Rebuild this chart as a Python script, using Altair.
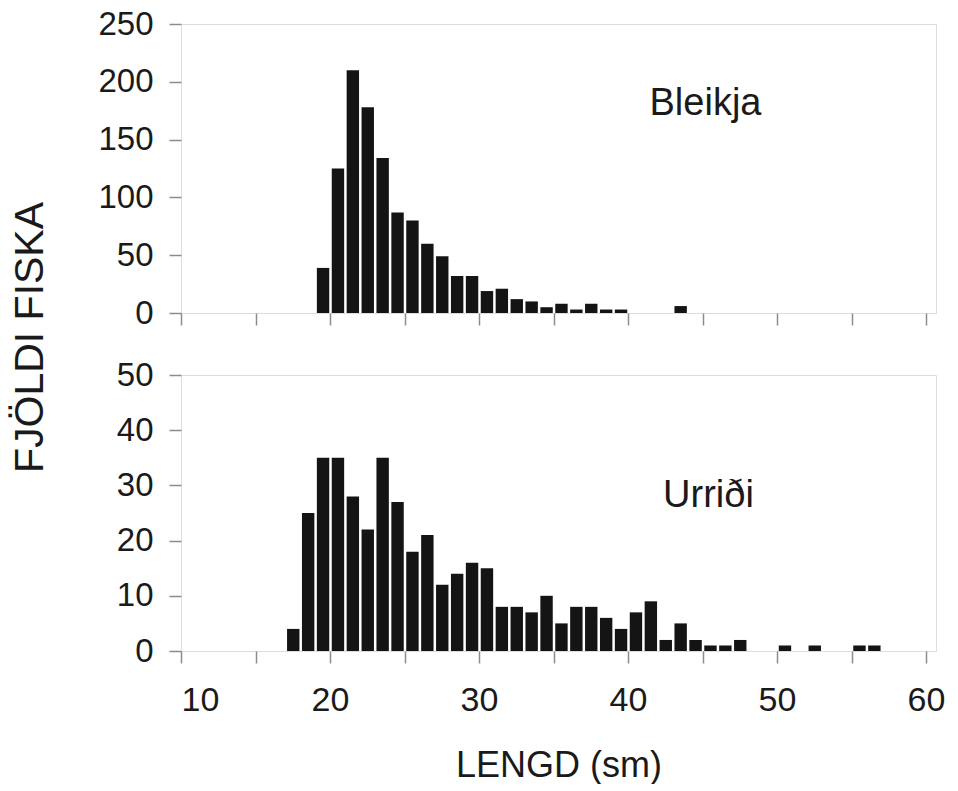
import altair as alt
import pandas as pd

FONT = "Liberation Sans"

# Bleikja (Arctic charr): length bins (cm, left edge) and fish counts
bleikja_len = list(range(19, 44))
bleikja_n = [39, 125, 210, 178, 134, 87, 80, 60, 49, 32,
             32, 19, 21, 12, 10, 5, 8, 3, 8, 3,
             3, 0, 0, 0, 6]

# Urriði (brown trout): length bins (cm, left edge) and fish counts
urridi_len = list(range(17, 57))
urridi_n = [4, 25, 35, 35, 28, 22, 35, 27, 18, 21,
            12, 14, 16, 15, 8, 8, 7, 10, 5, 8,
            8, 6, 4, 7, 9, 2, 5, 2, 1, 1,
            2, 0, 0, 1, 0, 1, 0, 0, 1, 1]

x_ticks = [10, 15, 20, 25, 30, 35, 40, 45, 50, 55, 60]
y_ticks_top = [0, 50, 100, 150, 200, 250]
y_ticks_bottom = [0, 10, 20, 30, 40, 50]

GRAY = "#8c8c8c"
INK = "#1a1a1a"


def panel(lens, counts, ymax, yticks, name, lx, ly, height, bottom):
    df = pd.DataFrame({"start": lens, "end": [v + 1 for v in lens], "n": counts})
    xaxis = alt.Axis(
        values=x_ticks, grid=False, domain=False, tickSize=12, tickColor=GRAY,
        tickWidth=1.5, labels=bottom, labelFontSize=34, labelFont=FONT,
        labelColor=INK, labelPadding=20,
        labelExpr="datum.value % 10 == 0 ? datum.label : ''",
        title="LENGD (sm)" if bottom else None,
        titleFontSize=36, titleFont=FONT, titleFontWeight="normal",
        titleColor=INK, titlePadding=31,
    )
    if bottom:
        yaxis = alt.Axis(
            values=yticks, grid=False, domain=False, tickSize=12, tickColor=GRAY,
            tickWidth=1.5, labelFontSize=33, labelFont=FONT, labelColor=INK,
            labelPadding=16, title=None,
        )
    else:
        yaxis = alt.Axis(
            values=yticks, grid=False, domain=False, tickSize=12, tickColor=GRAY,
            tickWidth=1.5, labelFontSize=33, labelFont=FONT, labelColor=INK,
            labelPadding=16, title="FJÖLDI FISKA", titleFontSize=41,
            titleFont=FONT, titleFontWeight="normal", titleColor=INK,
            titlePadding=46, titleY=313,
        )
    bars = alt.Chart(df).mark_bar(color="#141414", binSpacing=2.5).encode(
        x=alt.X("start:Q", bin="binned",
                scale=alt.Scale(domain=[10, 60.67], nice=False, zero=False),
                axis=xaxis),
        x2="end:Q",
        y=alt.Y("n:Q", scale=alt.Scale(domain=[0, ymax], nice=False), axis=yaxis),
    )
    label = alt.Chart(pd.DataFrame({"t": [name]})).mark_text(
        fontSize=38, font=FONT, color=INK, align="center", baseline="alphabetic"
    ).encode(x=alt.datum(lx), y=alt.datum(ly), text="t:N")
    return alt.layer(bars, label).properties(width=755, height=height)


top = panel(bleikja_len, bleikja_n, 250, y_ticks_top, "Bleikja", 45.2, 171, 289, False)
bottom = panel(urridi_len, urridi_n, 50, y_ticks_bottom, "Urriði", 45.4, 26, 276, True)

chart = alt.vconcat(top, bottom, spacing=62).properties(
    bounds="flush",
    padding={"left": 9, "top": 7, "right": 0, "bottom": 0},
).configure_view(
    stroke=GRAY, strokeWidth=1.5
).configure(background="white")

chart.save("out.html", embed_options={"renderer": "svg", "actions": False})
